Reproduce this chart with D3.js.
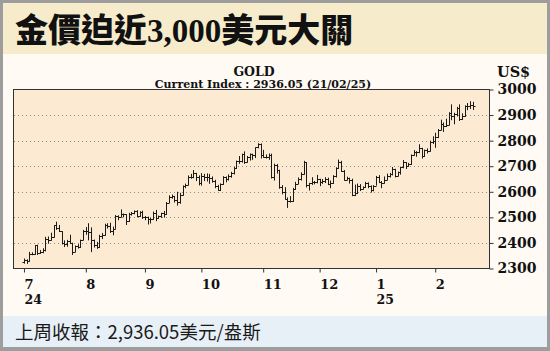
<!DOCTYPE html>
<html><head><meta charset="utf-8">
<script src="https://cdn.jsdelivr.net/npm/d3@7/dist/d3.min.js"></script>
<style>html,body{margin:0;padding:0;background:#fff;overflow:hidden}</style>
</head><body>
<svg id="c" width="550" height="351"></svg>
<script>
// ---------- DATA ----------
const dates = [
"2024-07-01","2024-07-02","2024-07-03","2024-07-04","2024-07-05","2024-07-08","2024-07-09","2024-07-10","2024-07-11","2024-07-12","2024-07-15","2024-07-16","2024-07-17","2024-07-18","2024-07-19","2024-07-22","2024-07-23","2024-07-24","2024-07-25","2024-07-26","2024-07-29","2024-07-30","2024-07-31",
"2024-08-01","2024-08-02","2024-08-05","2024-08-06","2024-08-07","2024-08-08","2024-08-09","2024-08-12","2024-08-13","2024-08-14","2024-08-15","2024-08-16","2024-08-19","2024-08-20","2024-08-21","2024-08-22","2024-08-23","2024-08-26","2024-08-27","2024-08-28","2024-08-29","2024-08-30",
"2024-09-02","2024-09-03","2024-09-04","2024-09-05","2024-09-06","2024-09-09","2024-09-10","2024-09-11","2024-09-12","2024-09-13","2024-09-16","2024-09-17","2024-09-18","2024-09-19","2024-09-20","2024-09-23","2024-09-24","2024-09-25","2024-09-26","2024-09-27","2024-09-30",
"2024-10-01","2024-10-02","2024-10-03","2024-10-04","2024-10-07","2024-10-08","2024-10-09","2024-10-10","2024-10-11","2024-10-14","2024-10-15","2024-10-16","2024-10-17","2024-10-18","2024-10-21","2024-10-22","2024-10-23","2024-10-24","2024-10-25","2024-10-28","2024-10-29","2024-10-30","2024-10-31",
"2024-11-01","2024-11-04","2024-11-05","2024-11-06","2024-11-07","2024-11-08","2024-11-11","2024-11-12","2024-11-13","2024-11-14","2024-11-15","2024-11-18","2024-11-19","2024-11-20","2024-11-21","2024-11-22","2024-11-25","2024-11-26","2024-11-27","2024-11-28","2024-11-29",
"2024-12-02","2024-12-03","2024-12-04","2024-12-05","2024-12-06","2024-12-09","2024-12-10","2024-12-11","2024-12-12","2024-12-13","2024-12-16","2024-12-17","2024-12-18","2024-12-19","2024-12-20","2024-12-23","2024-12-24","2024-12-26","2024-12-27","2024-12-30","2024-12-31",
"2025-01-02","2025-01-03","2025-01-06","2025-01-07","2025-01-08","2025-01-09","2025-01-10","2025-01-13","2025-01-14","2025-01-15","2025-01-16","2025-01-17","2025-01-20","2025-01-21","2025-01-22","2025-01-23","2025-01-24","2025-01-27","2025-01-28","2025-01-29","2025-01-30","2025-01-31",
"2025-02-03","2025-02-04","2025-02-05","2025-02-06","2025-02-07","2025-02-10","2025-02-11","2025-02-12","2025-02-13","2025-02-14","2025-02-17","2025-02-18","2025-02-19","2025-02-20","2025-02-21"
];
const openV = [
2326,2332,2330,2356,2356,2392,2359,2364,2371,2415,2411,2422,2469,2459,2445,2400,2396,2409,2398,2364,2387,2384,2411,
2447,2446,2443,2410,2390,2383,2427,2431,2472,2465,2447,2456,2507,2503,2514,2512,2484,2512,2518,2524,2504,2520,
2503,2500,2493,2495,2516,2497,2506,2516,2512,2558,2578,2582,2569,2559,2587,2622,2628,2657,2657,2672,2658,
2634,2662,2659,2656,2653,2644,2622,2608,2631,2657,2649,2662,2674,2693,2721,2720,2748,2715,2736,2747,2743,2774,2788,
2743,2736,2736,2742,2659,2706,2685,2618,2598,2573,2565,2563,2612,2631,2651,2670,2716,2625,2633,2637,2640,
2650,2640,2643,2650,2631,2633,2660,2694,2718,2680,2648,2652,2646,2587,2594,2622,2612,2617,2634,2621,2606,
2624,2658,2639,2635,2648,2661,2670,2689,2663,2677,2697,2715,2702,2708,2745,2755,2754,2770,2740,2763,2760,2794,
2798,2815,2842,2867,2856,2861,2908,2898,2904,2928,2883,2898,2935,2934,2939
];
const highV = [
2339,2336,2365,2363,2392,2393,2372,2379,2424,2425,2440,2469,2483,2470,2446,2410,2412,2432,2401,2390,2395,2413,2451,
2462,2477,2461,2413,2404,2432,2439,2475,2477,2479,2464,2509,2508,2531,2515,2513,2518,2521,2527,2528,2524,2526,
2505,2503,2498,2523,2529,2507,2518,2525,2560,2586,2589,2584,2600,2596,2625,2632,2664,2670,2685,2674,2664,
2673,2670,2672,2670,2660,2647,2627,2633,2661,2660,2668,2678,2697,2722,2740,2749,2758,2740,2750,2749,2774,2790,2789,
2764,2746,2750,2749,2710,2709,2686,2626,2618,2578,2583,2615,2639,2656,2676,2721,2716,2635,2657,2642,2666,
2651,2650,2657,2655,2644,2665,2696,2726,2721,2685,2659,2655,2651,2628,2632,2630,2621,2639,2637,2625,2626,
2662,2665,2642,2660,2671,2674,2697,2690,2679,2698,2724,2716,2713,2746,2763,2759,2786,2772,2765,2770,2800,2817,
2831,2845,2882,2871,2886,2911,2942,2909,2932,2942,2907,2938,2947,2954,2952
];
const lowV = [
2319,2318,2327,2352,2353,2353,2357,2360,2367,2397,2409,2421,2451,2443,2394,2384,2385,2398,2353,2364,2378,2380,2410,
2432,2410,2364,2382,2377,2380,2415,2428,2456,2439,2430,2455,2489,2500,2500,2470,2482,2507,2512,2500,2502,2494,
2489,2472,2476,2490,2485,2495,2498,2499,2510,2556,2573,2558,2546,2553,2585,2614,2625,2651,2653,2642,2625,
2624,2642,2640,2631,2636,2614,2604,2603,2627,2637,2644,2655,2668,2689,2709,2714,2709,2714,2722,2725,2732,2770,2730,
2733,2730,2725,2652,2644,2671,2612,2590,2570,2537,2558,2560,2607,2630,2644,2667,2617,2605,2627,2629,2633,
2622,2631,2634,2626,2614,2631,2656,2690,2678,2644,2645,2632,2583,2583,2591,2603,2609,2616,2614,2597,2602,
2624,2634,2614,2632,2645,2656,2664,2656,2660,2667,2692,2689,2698,2705,2741,2737,2751,2730,2737,2750,2757,2787,
2772,2810,2840,2834,2853,2860,2880,2864,2895,2877,2881,2893,2919,2924,2920
];
const closeV = [
2332,2330,2356,2356,2392,2359,2364,2371,2415,2411,2422,2469,2459,2445,2400,2396,2409,2398,2364,2387,2384,2411,2447,
2446,2443,2410,2390,2383,2427,2431,2472,2465,2447,2456,2507,2503,2514,2512,2484,2512,2518,2524,2504,2520,2503,
2500,2493,2495,2516,2497,2506,2516,2512,2558,2578,2582,2569,2559,2587,2622,2628,2657,2657,2672,2658,2634,
2662,2659,2656,2653,2644,2622,2608,2631,2657,2649,2662,2674,2693,2721,2720,2748,2715,2736,2747,2743,2774,2788,2743,
2736,2736,2742,2659,2706,2685,2618,2598,2573,2565,2563,2612,2631,2651,2670,2716,2625,2633,2637,2640,2650,
2640,2643,2650,2631,2633,2660,2694,2718,2680,2648,2652,2646,2587,2594,2622,2612,2617,2634,2621,2606,2624,
2658,2639,2635,2648,2661,2670,2689,2663,2677,2697,2715,2702,2708,2745,2755,2754,2770,2740,2763,2760,2794,2798,
2815,2842,2867,2856,2861,2908,2898,2904,2928,2883,2898,2935,2934,2939,2936
];
const yTicks = [2300,2400,2500,2600,2700,2800,2900,3000];
const monthLabels = ["7","8","9","10","11","12","1","2"];
const yearLabels = ["24","","","","","","25",""];
const titleParts = ["金價迫近","3,000","美元大關"];
const chartTitle = "GOLD";
const chartSubtitle = "Current Index : 2936.05 (21/02/25)";
const unitLabel = "US$";
const footerText = "上周收報：2,936.05美元/盎斯";

// ---------- DRAW ----------
const svg = d3.select("#c");
const serif = "'DejaVu Serif', serif";

// frame and bands
svg.append("rect").attr("x",0).attr("y",0).attr("width",550).attr("height",351).attr("fill","#9d9d9d");
svg.append("rect").attr("x",3).attr("y",3).attr("width",544).attr("height",344).attr("fill","#FFFAF4");
svg.append("rect").attr("x",3).attr("y",3).attr("width",544).attr("height",51).attr("fill","#F6ECCB");
svg.append("rect").attr("x",3).attr("y",316).attr("width",544).attr("height",31).attr("fill","#E8F0F7");

// title
const t = svg.append("text").attr("x",15).attr("y",42).attr("font-size",33).attr("fill","#111");
t.append("tspan").attr("font-family","'Noto Sans CJK TC'").attr("font-weight",900).text(titleParts[0]);
t.append("tspan").attr("font-family","'Liberation Serif', serif").attr("font-weight",700).text(titleParts[1]);
t.append("tspan").attr("font-family","'Noto Sans CJK TC'").attr("font-weight",900).text(titleParts[2]);

// scales
const idx = d3.range(dates.length);
const x = d3.scaleLinear().domain([-3.9, 173.2]).range([13.5, 489.5]);
const y = d3.scaleLinear().domain([2300, 3000]).range([268.5, 89.5]);

// plot background
svg.append("rect").attr("x",13.5).attr("y",89.5).attr("width",476).attr("height",179)
  .attr("fill","#FCEBD2");

// gridlines
svg.append("g").selectAll("line").data(yTicks.filter(v=>v>2300 && v<3000)).join("line")
  .attr("x1",14).attr("x2",489).attr("y1",d=>Math.round(y(d))+0.5).attr("y2",d=>Math.round(y(d))+0.5)
  .attr("stroke","#8a8a8a").attr("stroke-width",1).attr("stroke-dasharray","1,3");

// OHLC bars
const bars = svg.append("g").attr("stroke","#1b1b1b").attr("stroke-width",1);
idx.forEach(i=>{
  const cx = Math.round(x(i))+0.5;
  bars.append("line").attr("x1",cx).attr("x2",cx).attr("y1",y(highV[i])).attr("y2",y(lowV[i]));
  bars.append("line").attr("x1",cx-2).attr("x2",cx).attr("y1",Math.round(y(openV[i]))+0.5).attr("y2",Math.round(y(openV[i]))+0.5);
  bars.append("line").attr("x1",cx).attr("x2",cx+2).attr("y1",Math.round(y(closeV[i]))+0.5).attr("y2",Math.round(y(closeV[i]))+0.5);
});

// plot border
svg.append("rect").attr("x",13.5).attr("y",89.5).attr("width",476).attr("height",179)
  .attr("fill","none").attr("stroke","#333").attr("stroke-width",1);

// right axis
const ya = svg.append("g").attr("transform","translate(489.5,0)")
  .call(d3.axisRight(y).tickValues(yTicks).tickSize(4).tickPadding(4).tickFormat(d3.format("d")));
ya.select(".domain").remove();
ya.selectAll("line").attr("stroke","#333");
ya.selectAll("text").attr("font-family",serif).attr("font-weight","bold").attr("font-size",14).attr("fill","#111");

// bottom axis
const monthIdx = [];
dates.forEach((d,i)=>{ if(i===0 || d.slice(0,7)!==dates[i-1].slice(0,7)) monthIdx.push(i); });
const xa = svg.append("g").attr("transform","translate(0,268.5)")
  .call(d3.axisBottom(x).tickValues(monthIdx).tickSize(4).tickFormat((d,k)=>monthLabels[k]));
xa.select(".domain").remove();
xa.selectAll("line").attr("stroke","#333");
xa.selectAll("text").attr("text-anchor","start").attr("x",0).attr("y",20.5).attr("dy",0)
  .attr("font-family",serif).attr("font-weight","bold").attr("font-size",13).attr("fill","#111");
xa.selectAll(".tick").filter((d,k)=>yearLabels[k]!=="").append("text").attr("x",0).attr("y",35)
  .attr("text-anchor","start").attr("font-family",serif).attr("font-weight","bold").attr("font-size",12.5).attr("fill","#111")
  .text(d=>yearLabels[monthIdx.indexOf(d)]);

// header texts
svg.append("text").attr("x",254).attr("y",76).attr("text-anchor","middle")
  .attr("font-family",serif).attr("font-weight","bold").attr("font-size",12.5).attr("fill","#111").text(chartTitle);
svg.append("text").attr("x",263).attr("y",88).attr("text-anchor","middle")
  .attr("font-family",serif).attr("font-weight","bold").attr("font-size",11).attr("fill","#111").text(chartSubtitle);
svg.append("text").attr("x",497).attr("y",77).attr("text-anchor","start")
  .attr("font-family",serif).attr("font-weight","bold").attr("font-size",14.5).attr("fill","#111").text(unitLabel);

// footer
svg.append("text").attr("x",15).attr("y",339).attr("font-family","'Noto Sans CJK TC', sans-serif")
  .attr("font-size",18.5).attr("fill","#1a1a1a").text(footerText);
</script>
</body></html>
